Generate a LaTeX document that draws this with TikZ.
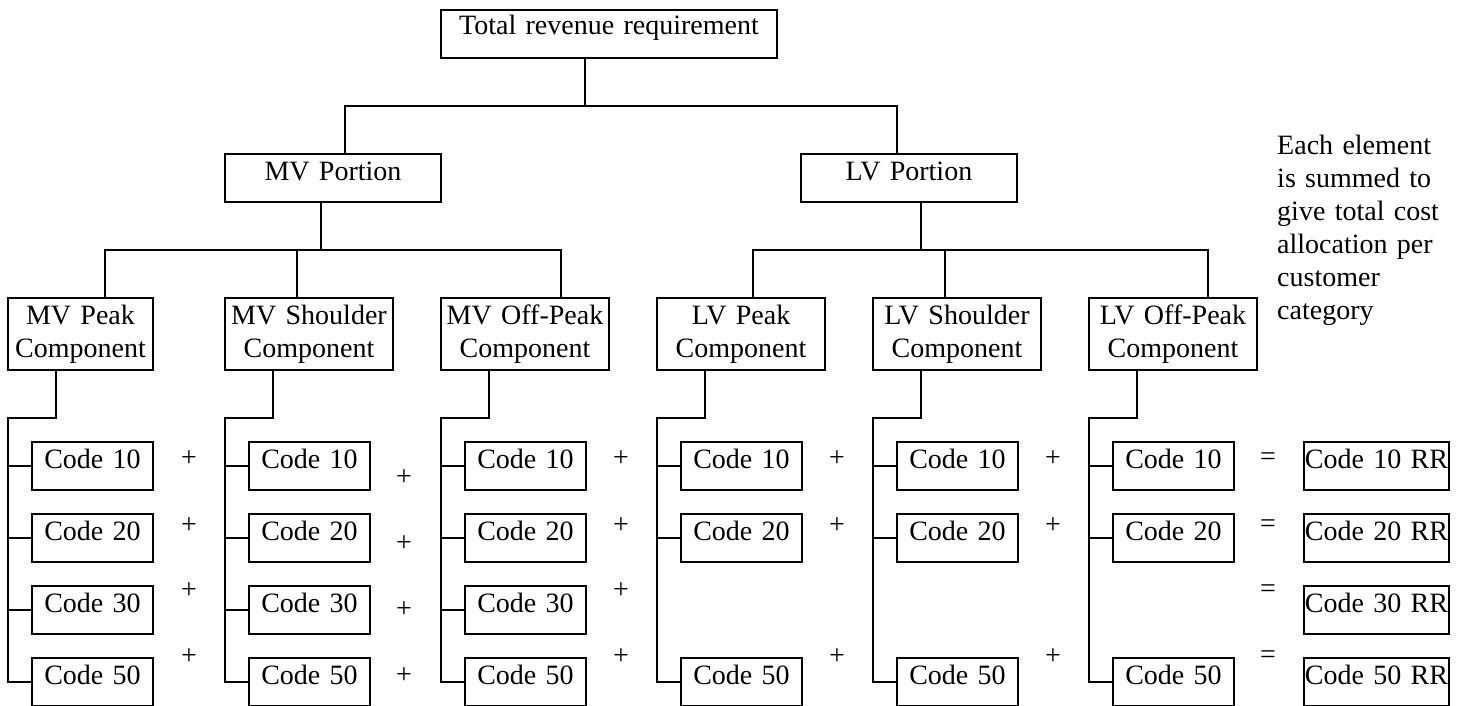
\documentclass[tikz,border=0pt]{standalone}
\usepackage{fontspec}
\setmainfont{Liberation Serif}
\newcommand\diagfont{\fontsize{28pt}{33pt}\selectfont}
\tikzset{
  wire/.style={line width=1.8pt},
  box/.style={draw, line width=1.8pt, inner sep=0pt, align=center, font=\diagfont},
  onebox/.style={box, text height=26pt, text depth=22pt},
  twobox/.style={box, text height=26pt, text depth=46pt},
  codebox/.style={onebox, text width=121pt},
  rrbox/.style={onebox, text width=145pt},
  op/.style={inner sep=0pt, font=\diagfont},
  note/.style={inner sep=0pt, font=\diagfont, text width=175pt, align=left}
}
\begin{document}
\begin{tikzpicture}[x=1pt, y=-1pt]
\useasboundingbox (0,0) rectangle (1463,706);

% top levels
\node[box, text width=336pt, text height=25pt, text depth=23pt] (top) at (609,34) {Total revenue requirement};
\node[onebox, text width=216pt] (mvp) at (333,178) {MV Portion};
\node[onebox, text width=216pt] (lvp) at (909,178) {LV Portion};

% tariff components
\node[twobox, text width=145pt] (c1) at (80.5,334) {MV Peak\\Component};
\node[twobox, text width=168pt] (c2) at (309,334) {MV Shoulder\\Component};
\node[twobox, text width=168pt] (c3) at (525,334) {MV Off-Peak\\Component};
\node[twobox, text width=168pt] (c4) at (741,334) {LV Peak\\Component};
\node[twobox, text width=168pt] (c5) at (957,334) {LV Shoulder\\Component};
\node[twobox, text width=168pt] (c6) at (1173,334) {LV Off-Peak\\Component};

% junction points of the tree
\coordinate (tM) at (585,106);
\coordinate (tL) at (345,106);
\coordinate (tR) at (897,106);
\coordinate (mM) at (321,250);
\coordinate (mA) at (105,250);
\coordinate (mB) at (297,250);
\coordinate (mC) at (561,250);
\coordinate (lM) at (921,250);
\coordinate (lA) at (753,250);
\coordinate (lB) at (945,250);
\coordinate (lC) at (1208,250);

\draw[wire] (top.south -| tM) -- (tM);
\draw[wire] (mvp.north -| tL) -- (tL) -- (tR) -- (lvp.north -| tR);
\draw[wire] (mvp.south -| mM) -- (mM);
\draw[wire] (c1.north -| mA) -- (mA) -- (mC) -- (c3.north -| mC);
\draw[wire] (mB) -- (c2.north -| mB);
\draw[wire] (lvp.south -| lM) -- (lM);
\draw[wire] (c4.north -| lA) -- (lA) -- (lC) -- (c6.north -| lC);
\draw[wire] (lB) -- (c5.north -| lB);

% customer codes under each component
\foreach \i/\l in {1/8,2/225,3/441} {
  \foreach \k/\y in {10/466,20/538,30/610,50/682}
    \node[codebox] (c\i k\k) at (\l+84.5,\y) {Code \k};
}
\foreach \i/\l in {4/657,5/873,6/1089} {
  \foreach \k/\y in {10/466,20/538,50/682}
    \node[codebox] (c\i k\k) at (\l+84.5,\y) {Code \k};
}

% brackets from components to their codes
\foreach \i/\l in {1/8,2/225,3/441,4/657,5/873,6/1089} {
  \coordinate (d\i) at (\l+48,418);
  \coordinate (r\i) at (\l,418);
  \draw[wire] (c\i.south -| d\i) -- (d\i) -- (r\i) |- (c\i k50.west);
}
\foreach \i in {1,2,3} {
  \foreach \k in {10,20,30}
    \draw[wire] (c\i k\k.west) -- (c\i k\k.west -| r\i);
}
\foreach \i in {4,5,6} {
  \foreach \k in {10,20}
    \draw[wire] (c\i k\k.west) -- (c\i k\k.west -| r\i);
}

% resulting revenue requirement per code
\foreach \k/\y in {10/466,20/538,30/610,50/682}
  \node[rrbox] (rr\k) at (1376.5,\y) {Code \k\ RR};

% summation signs
\foreach \x/\n in {189/a,621/c} {
  \foreach \y/\m in {459/1,526/2,591/3,657/4}
    \node[op] (plus\n\m) at (\x,\y) {+};
}
\foreach \y/\m in {478/1,544/2,610/3,676/4}
  \node[op] (plusb\m) at (404,\y) {+};
\foreach \x/\n in {837/d,1053/e} {
  \foreach \y/\m in {459/1,526/2,657/4}
    \node[op] (plus\n\m) at (\x,\y) {+};
}
\foreach \y/\m in {459/1,526/2,591/3,657/4}
  \node[op] (eq\m) at (1268,\y) {=};

% explanatory note
\node[note, anchor=base west] (note) at (1277,154)
  {Each element\\is summed to\\give total cost\\allocation per\\customer\\category};
\end{tikzpicture}
\end{document}
